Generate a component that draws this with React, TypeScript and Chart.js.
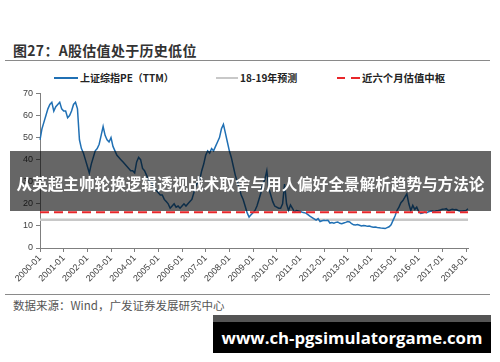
import React, { useEffect, useRef } from "react";
import { Chart, registerables } from "chart.js";

Chart.register(...registerables);

// ---- data ----
const startYear = 2000;

// 上证综指PE（TTM）, monthly from 2000-01
const peValues = [
  49, 54, 57, 60, 63, 65, 66, 62, 64, 65, 66, 63,
  62, 62, 59, 60, 62, 65, 66, 63, 49, 45, 43, 40,
  37, 34, 38, 41, 44, 45, 47, 51, 55, 51, 49, 48,
  50, 46, 44, 42, 41, 40, 39, 38, 37, 36, 35, 35,
  34, 39, 41, 40, 36, 35, 33, 31, 30, 29, 27, 26,
  25, 24, 24, 22, 21, 20, 18, 19, 20, 18.5, 19, 18,
  19, 20, 19, 20, 21, 22, 25, 28, 30, 31, 35, 38,
  42, 44, 43, 45, 44, 46, 48, 50, 54, 56, 52, 48,
  44, 41, 37, 33, 30, 27, 24, 22, 19, 16, 14, 15,
  16, 17, 19, 22, 25, 29, 31, 35, 27, 24, 21, 19,
  18.5, 18, 18, 20, 29, 20, 17, 19.5, 18, 16.3, 17, 16.8,
  16.5, 16.2, 16, 15.7, 15, 14.3, 13.8, 13.2, 12.6, 13.3, 12, 12.3,
  12.6, 12.4, 12.5, 11.3, 11.5, 11.2, 11.6, 11.8, 11.2, 11, 11.3, 11.6,
  12, 11.8, 11, 10.5, 10.4, 10.6, 10.3, 10, 10.2, 10.1, 9.8, 9.9,
  9.6, 9.4, 9.5, 9.3, 9.2, 9, 8.9, 8.8, 9.2, 9.6, 10.5, 12.5,
  14.5, 17, 18.5, 20.5, 21.5, 23, 24.5, 20, 17, 19.3, 17.5, 18.5,
  16.5, 15.6, 15.8, 16.3, 16, 16.4, 16.6, 16.7, 16.5, 16.9, 17, 17.2,
  17.5, 17.6, 17.8, 17, 17.2, 17.5, 17.3, 17.4, 17, 16.7, 16.8, 16.9,
  17, 17.8,
];

const forecastPE = 12.8; // 18-19年预测
const centerPE = 16.2; // 近六个月估值中枢

const yearTickLabels = [
  "2000-01", "2001-01", "2002-01", "2003-01", "2004-01", "2005-01",
  "2006-01", "2007-01", "2008-01", "2009-01", "2010-01", "2011-01",
  "2012-01", "2013-01", "2014-01", "2015-01", "2016-01", "2017-01",
  "2018-01",
];

const seriesNames = ["上证综指PE（TTM）", "18-19年预测", "近六个月估值中枢"];

const monthLabels = peValues.map(
  (_, i) => `${startYear + Math.floor(i / 12)}-${String((i % 12) + 1).padStart(2, "0")}`
);

const BLUE = "#2070B4";
const GRAY = "#C8C8C8";
const RED = "#E8262A";

export default function App() {
  const canvasRef = useRef<HTMLCanvasElement | null>(null);

  useEffect(() => {
    if (!canvasRef.current) return;
    const first = monthLabels[0];
    const last = monthLabels[monthLabels.length - 1];
    const chart = new Chart(canvasRef.current, {
      type: "line",
      data: {
        labels: monthLabels,
        datasets: [
          {
            label: seriesNames[2],
            data: [
              { x: first, y: centerPE },
              { x: last, y: centerPE },
            ] as any,
            borderColor: RED,
            borderWidth: 2,
            borderDash: [9, 5],
            pointRadius: 0,
            order: 1,
          },
          {
            label: seriesNames[0],
            data: peValues,
            borderColor: BLUE,
            borderWidth: 1.5,
            pointRadius: 0,
            tension: 0,
            order: 2,
          },
          {
            label: seriesNames[1],
            data: [
              { x: first, y: forecastPE },
              { x: last, y: forecastPE },
            ] as any,
            borderColor: GRAY,
            borderWidth: 2.5,
            pointRadius: 0,
            order: 3,
          },
        ],
      },
      options: {
        animation: false,
        responsive: false,
        maintainAspectRatio: false,
        layout: { padding: { left: 0, right: 32, top: 7, bottom: 0 } },
        plugins: {
          legend: { display: false },
          tooltip: { enabled: false },
          title: { display: false },
        },
        scales: {
          x: {
            type: "category",
            grid: {
              drawOnChartArea: false,
              drawTicks: true,
              tickLength: 4,
              color: "#7f7f7f",
            },
            border: { color: "#7f7f7f", width: 1 },
            ticks: {
              autoSkip: false,
              maxRotation: 45,
              minRotation: 45,
              padding: 1,
              color: "#404040",
              font: { family: "'Liberation Sans', Arial, sans-serif", size: 9 },
              callback: (_v: any, index: number) => {
                const l = monthLabels[index];
                return yearTickLabels.includes(l) ? l : null;
              },
            },
            afterFit: (s: any) => {
              s.height = 42;
            },
          },
          y: {
            min: 0,
            max: 70,
            grid: {
              drawOnChartArea: false,
              drawTicks: true,
              tickLength: 4,
              color: "#7f7f7f",
            },
            border: { color: "#7f7f7f", width: 1 },
            ticks: {
              stepSize: 10,
              padding: 3,
              color: "#404040",
              font: { family: "'Liberation Sans', Arial, sans-serif", size: 9 },
            },
            afterFit: (s: any) => {
              s.width = 40;
            },
          },
        },
      },
    });
    return () => chart.destroy();
  }, []);

  const cjk = "'Noto Sans CJK SC', 'Noto Sans', sans-serif";

  return (
    <div
      style={{
        position: "absolute",
        left: 0,
        top: 0,
        width: 500,
        height: 362,
        background: "#fff",
        overflow: "hidden",
        fontFamily: cjk,
      }}
    >
      {/* title */}
      <div
        style={{
          position: "absolute",
          left: 13,
          top: 41,
          fontSize: 14,
          lineHeight: "18px",
          fontWeight: 700,
          color: "#333",
          whiteSpace: "nowrap",
          letterSpacing: 0.3,
        }}
      >
        图27：A股估值处于历史低位
      </div>
      <div style={{ position: "absolute", left: 5, top: 60, width: 485, height: 1, background: "#8a8a8a" }} />

      {/* legend */}
      <div style={{ position: "absolute", left: 54, top: 77, width: 24, height: 2, background: BLUE }} />
      <div style={{ position: "absolute", left: 80, top: 71, fontSize: 10, lineHeight: "14px", fontWeight: 700, color: "#222", whiteSpace: "nowrap" }}>
        {seriesNames[0]}
      </div>
      <div style={{ position: "absolute", left: 216, top: 77, width: 22, height: 2, background: GRAY }} />
      <div style={{ position: "absolute", left: 240, top: 71, fontSize: 10, lineHeight: "14px", fontWeight: 700, color: "#222", whiteSpace: "nowrap" }}>
        {seriesNames[1]}
      </div>
      <div style={{ position: "absolute", left: 337, top: 77, width: 8, height: 2, background: RED }} />
      <div style={{ position: "absolute", left: 351, top: 77, width: 9, height: 2, background: RED }} />
      <div style={{ position: "absolute", left: 362, top: 71, fontSize: 10.4, lineHeight: "14px", fontWeight: 700, color: "#222", whiteSpace: "nowrap" }}>
        {seriesNames[2]}
      </div>

      {/* chart */}
      <div style={{ position: "absolute", left: 0, top: 85, width: 500, height: 205 }}>
        <canvas ref={canvasRef} width={500} height={205} style={{ display: "block" }} />
      </div>

      {/* bottom rule + source */}
      <div style={{ position: "absolute", left: 5, top: 294, width: 485, height: 1, background: "#8a8a8a" }} />
      <div
        style={{
          position: "absolute",
          left: 13,
          top: 297,
          fontSize: 11.5,
          lineHeight: "16px",
          color: "#555",
          whiteSpace: "nowrap",
        }}
      >
        数据来源：Wind，广发证券发展研究中心
      </div>

      {/* overlay banner */}
      <div
        style={{
          position: "absolute",
          left: 10,
          top: 151,
          width: 481,
          height: 60,
          boxSizing: "border-box",
          paddingTop: 5,
          background: "rgba(0,0,0,0.6)",
          color: "#fff",
          fontWeight: 700,
          fontSize: 15.6,
          lineHeight: "55px",
          textAlign: "center",
          whiteSpace: "nowrap",
          overflow: "visible",
        }}
      >
        从英超主帅轮换逻辑透视战术取舍与用人偏好全景解析趋势与方法论
      </div>

      {/* watermark */}
      <div
        style={{
          position: "absolute",
          left: 213,
          top: 315,
          width: 278,
          height: 38,
          boxSizing: "border-box",
          borderTop: "7px solid #555",
          background: "#000",
          color: "#fff",
          fontFamily: "'Open Sans', 'DejaVu Sans', sans-serif",
          fontWeight: 700,
          fontSize: 16.8,
          lineHeight: "31px",
          textAlign: "center",
          whiteSpace: "nowrap",
        }}
      >
        www.ch-pgsimulatorgame.com
      </div>
    </div>
  );
}
